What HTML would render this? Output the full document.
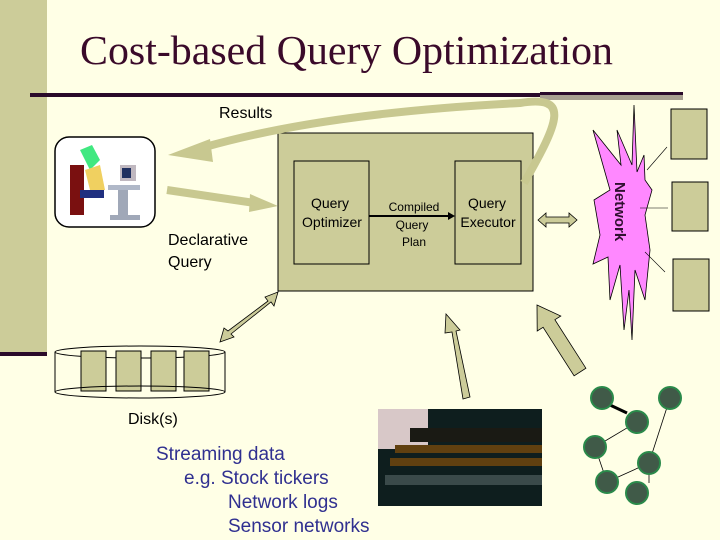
<!DOCTYPE html>
<html><head><style>
html,body{margin:0;padding:0;background:#ffffe6;}
svg{display:block}
text{font-family:"Liberation Sans",sans-serif;}
</style></head><body>
<svg width="720" height="540" viewBox="0 0 720 540" xmlns="http://www.w3.org/2000/svg">
<rect width="720" height="540" fill="#ffffe6"/>
<rect x="0" y="0" width="47" height="354" fill="#cccc99"/>
<rect x="0" y="352" width="47" height="4" fill="#2a0a2a"/>
<text x="80" y="64" font-size="41" fill="#3a0a2a" textLength="533" lengthAdjust="spacingAndGlyphs" style="font-family:'Liberation Serif',serif">Cost-based Query Optimization</text>
<rect x="30" y="93" width="510" height="4" fill="#2a0a2a"/>
<rect x="540" y="92" width="143" height="8" fill="#a8a090"/>
<rect x="540" y="92" width="143" height="3" fill="#2a0a2a"/>
<text x="219" y="118" font-size="16">Results</text>
<!-- person box -->
<rect x="55" y="137" width="100" height="90" rx="14" fill="#fff" stroke="#000" stroke-width="1.5"/>
<rect x="70" y="165" width="14" height="50" fill="#7a1010"/>
<path d="M80 150 l12 -5 l8 15 l-10 10 z" fill="#40e880"/>
<path d="M85 170 l15 -5 l5 25 l-15 0 z" fill="#f0d060"/>
<rect x="80" y="190" width="24" height="8" fill="#203080"/>
<rect x="120" y="165" width="16" height="16" fill="#c0b8c0"/>
<rect x="122" y="168" width="9" height="10" fill="#203060"/>
<rect x="108" y="185" width="32" height="5" fill="#b0b8c8"/>
<rect x="118" y="190" width="10" height="28" fill="#a0a8b8"/>
<rect x="110" y="215" width="30" height="5" fill="#a0a8b8"/>
<!-- big box -->
<rect x="278" y="133" width="255" height="158" fill="#cccc99" stroke="#000"/>
<rect x="294" y="161" width="75" height="103" fill="#cccc99" stroke="#000"/>
<rect x="455" y="161" width="66" height="103" fill="#cccc99" stroke="#000"/>
<text x="330" y="208" font-size="14" text-anchor="middle">Query</text>
<text x="332" y="227" font-size="14" text-anchor="middle">Optimizer</text>
<text x="487" y="208" font-size="14" text-anchor="middle">Query</text>
<text x="488" y="227" font-size="14" text-anchor="middle">Executor</text>
<line x1="369" y1="216" x2="450" y2="216" stroke="#000" stroke-width="2"/>
<path d="M455 216 l-7 -4 v8z" fill="#000"/>
<text x="414" y="211" font-size="12" text-anchor="middle">Compiled</text>
<text x="412" y="229" font-size="12" text-anchor="middle">Query</text>
<text x="414" y="246" font-size="12" text-anchor="middle">Plan</text>
<!-- results curve arrow -->
<path d="M524 183 C 560 120, 570 95, 520 103 C 420 108, 300 120, 205 147" fill="none" stroke="#c8c890" stroke-width="8"/>
<path d="M168 155 L210 139 L213 162 z" fill="#c8c890"/>
<!-- declarative query arrow -->
<path d="M167 190 L255 203" stroke="#c8c890" stroke-width="8"/>
<path d="M278 206 L250 194 L249 212 z" fill="#c8c890"/>
<text x="168" y="245" font-size="16">Declarative</text>
<text x="168" y="267" font-size="16">Query</text>
<!-- disk double arrow -->
<path d="M220 342 L224 328 L228 331 L268 301 L265 297 L278 292 L274 306 L271 302 L231 334 L234 337 z" fill="#cccc99" stroke="#000" stroke-width="0.8"/>
<!-- disk -->
<ellipse cx="140" cy="352" rx="85" ry="6" fill="none" stroke="#000"/>
<line x1="55" y1="352" x2="55" y2="392" stroke="#000"/>
<line x1="225" y1="352" x2="225" y2="392" stroke="#000"/>
<rect x="81" y="351" width="25" height="40" fill="#cccc99" stroke="#000"/>
<rect x="116" y="351" width="25" height="40" fill="#cccc99" stroke="#000"/>
<rect x="151" y="351" width="25" height="40" fill="#cccc99" stroke="#000"/>
<rect x="184" y="351" width="25" height="40" fill="#cccc99" stroke="#000"/>
<ellipse cx="140" cy="392" rx="85" ry="6" fill="none" stroke="#000"/>
<text x="128" y="424" font-size="16">Disk(s)</text>
<text x="156" y="460" font-size="19" fill="#303090">Streaming data</text>
<text x="184" y="484" font-size="19" fill="#303090">e.g.  Stock tickers</text>
<text x="228" y="508" font-size="19" fill="#303090">Network logs</text>
<text x="228" y="532" font-size="19" fill="#303090">Sensor networks</text>
<!-- up arrows -->
<path d="M463 399 L452 332 L445 333 L446 314 L460 330 L456 331 L470 397 z" fill="#cccc99" stroke="#000" stroke-width="0.8"/>
<path d="M537 305 L560.8 316 L554.9 319.7 L585.9 368.2 L574.1 375.8 L543.1 327.3 L537.2 331 z" fill="#cccc99" stroke="#000" stroke-width="0.8"/>
<!-- exec-network double arrow -->
<path d="M538 220 l8 -7 v4 h23 v-4 l8 7 l-8 7 v-4 h-23 v4 z" fill="#cccc99" stroke="#000" stroke-width="0.8"/>
<!-- network burst -->
<path d="M634 105 L632 165 L617 130 L621 165 L593 130 L610 190 L594 200 L600 235 L593 264 L608 257 L610 300 L620 265 L624 330 L629 290 L632 340 L635 270 L645 300 L650 250 L645 215 L652 190 L645 180 L644 155 L637 172 z" fill="#ff88ff" stroke="#000" stroke-width="0.8"/>
<text x="0" y="0" font-size="15" font-weight="bold" fill="#301030" transform="translate(615,182) rotate(90)">Network</text>
<line x1="647" y1="170" x2="667" y2="147" stroke="#000" stroke-width="0.6"/>
<line x1="640" y1="208" x2="668" y2="208" stroke="#000" stroke-width="0.6"/>
<line x1="645" y1="252" x2="665" y2="272" stroke="#000" stroke-width="0.6"/>
<rect x="671" y="109" width="36" height="50" fill="#cccc99" stroke="#000"/>
<rect x="672" y="182" width="36" height="49" fill="#cccc99" stroke="#000"/>
<rect x="673" y="259" width="36" height="52" fill="#cccc99" stroke="#000"/>
<!-- stock photo -->
<rect x="378" y="409" width="164" height="97" fill="#0e1e1e"/>
<rect x="378" y="409" width="50" height="40" fill="#d8c8c8"/>
<rect x="410" y="428" width="132" height="14" fill="#1a1a14"/>
<rect x="395" y="445" width="147" height="8" fill="#604010"/>
<rect x="390" y="458" width="152" height="8" fill="#604010"/>
<rect x="385" y="475" width="157" height="10" fill="#3a4a4a"/>
<!-- sensors -->
<g stroke="#000" stroke-width="0.8">
<line x1="610" y1="405" x2="627" y2="413" stroke-width="3"/>
<line x1="637" y1="422" x2="595" y2="447"/>
<line x1="670" y1="398" x2="649" y2="463"/>
<line x1="595" y1="447" x2="607" y2="482"/>
<line x1="607" y1="482" x2="649" y2="463"/>
<line x1="649" y1="463" x2="649" y2="483"/>
</g>
<g fill="#405a48" stroke="#2a8a4a" stroke-width="2">
<circle cx="602" cy="398" r="11"/><circle cx="670" cy="398" r="11"/>
<circle cx="637" cy="422" r="11"/><circle cx="595" cy="447" r="11"/>
<circle cx="649" cy="463" r="11"/><circle cx="607" cy="482" r="11"/>
<circle cx="637" cy="493" r="11"/>
</g>
</svg>
</body></html>
